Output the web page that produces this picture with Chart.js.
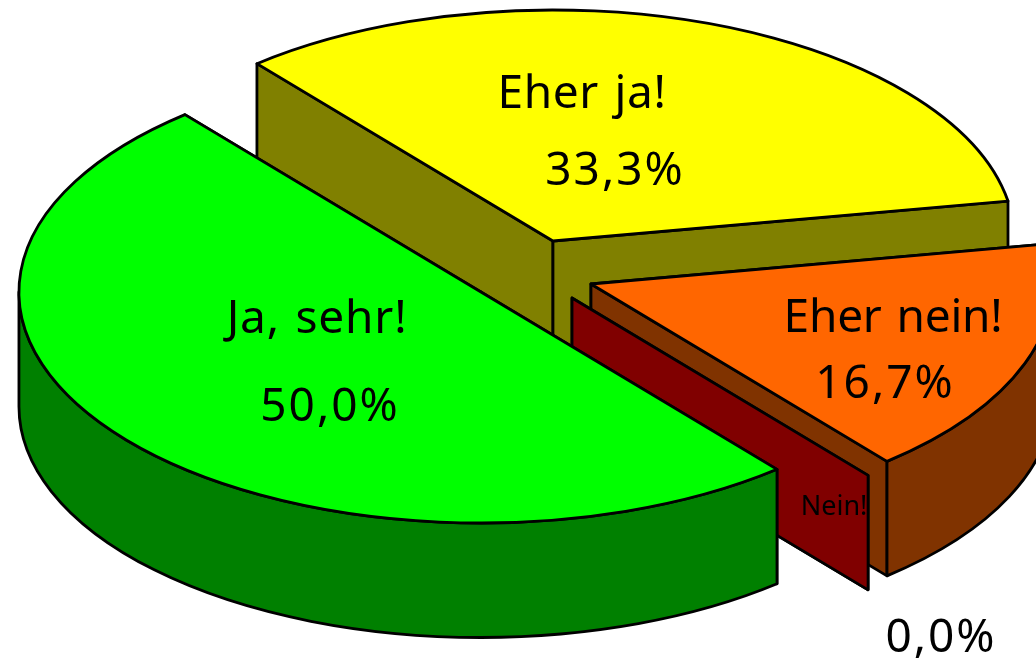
<!DOCTYPE html>
<html lang="de">
<head>
  <meta charset="UTF-8">
  <title>Ja, sehr!</title>
  <script src="https://cdn.jsdelivr.net/npm/chart.js"></script>
  <style>
    html, body { margin: 0; padding: 0; background: #fff; }
    #wrap { width: 1036px; height: 660px; overflow: hidden; }
  </style>
</head>
<body>
  <div id="wrap"><canvas id="pie" width="1036" height="660"></canvas></div>

  <script>
    // drawn back to front, so the order is not the reading order
    const categories = ["Eher ja!", "Eher nein!", "Nein!", "Ja, sehr!"];
    const values = [33.3, 16.7, 0, 50];
    const topColors = ["#ffff00", "#ff6600", "#ff0000", "#00ff00"];
    const wallColors = ["#808000", "#803300", "#800000", "#008000"];

    // how far each slice is pulled out, and in which direction (degrees)
    const explode = [63.7, 64.9, 67.5, 65.7];
    const explodeDir = [-70.3, 23.6, 53.1, 140.3];

    // look of the tilted pie
    const center = { x: 531.5, y: 271 };
    const radius = 462;
    const tilt = 0.5;     // y squash
    const depth = 114.5;
    const rotation = 320.15;

    // label anchors: name x,baseline then percent x,baseline
    const labelPos = [
      [582, 108, 615, 185],
      [893, 332, 885, 398],
      [834, 515, 941, 652],
      [317, 333, 330, 421]
    ];
    const labelSize = [46, 46, 27, 46];
    const nameSpacing = [0.6, -0.2, 0, 0.8];
    const labelFont = '"Noto Sans", sans-serif';

    const pie3d = {
      id: "pie3d",
      beforeDatasetDraw(chart, args) {
        const ctx = chart.ctx;
        args.meta.data.forEach((arc, i) => drawSlice(ctx, arc, i));
        drawLabels(ctx);
        return false; // slices are painted one by one above
      }
    };

    function drawSlice(ctx, arc, i) {
      const start = arc.startAngle, end = arc.endAngle;
      const dir = explodeDir[i] * Math.PI / 180;
      const ax = center.x + Math.cos(dir) * explode[i];
      const ay = center.y + Math.sin(dir) * explode[i] * tilt;
      const r = arc.outerRadius, ry = r * tilt;
      const px = a => ax + Math.cos(a) * r;
      const py = a => ay + Math.sin(a) * ry;

      ctx.save();
      ctx.lineWidth = 2.8;
      ctx.lineJoin = "round";
      ctx.strokeStyle = "#000";
      ctx.fillStyle = wallColors[i];

      // cut faces
      [start, end].forEach(a => {
        ctx.beginPath();
        ctx.moveTo(ax, ay);
        ctx.lineTo(px(a), py(a));
        ctx.lineTo(px(a), py(a) + depth);
        ctx.lineTo(ax, ay + depth);
        ctx.closePath();
        ctx.fill();
        ctx.stroke();
      });

      // rim, only the part turned to the viewer (sin > 0)
      for (let k = -1; k <= 2; k++) {
        const lo = Math.max(start, k * 2 * Math.PI);
        const hi = Math.min(end, k * 2 * Math.PI + Math.PI);
        if (hi > lo) {
          ctx.beginPath();
          ctx.ellipse(ax, ay, r, ry, 0, lo, hi);
          ctx.lineTo(px(hi), py(hi) + depth);
          ctx.ellipse(ax, ay + depth, r, ry, 0, hi, lo, true);
          ctx.closePath();
          ctx.fill();
          ctx.stroke();
        }
      }

      // top face goes through the library's arc element
      ctx.save();
      ctx.translate(ax, ay);
      ctx.scale(1, tilt);
      ctx.translate(-arc.x, -arc.y);
      arc.draw(ctx);
      ctx.restore();

      if (end > start) {
        ctx.beginPath();
        ctx.moveTo(ax, ay);
        ctx.ellipse(ax, ay, r, ry, 0, start, end);
        ctx.closePath();
        ctx.stroke();
      }
      ctx.restore();
    }

    function drawLabels(ctx) {
      ctx.save();
      ctx.fillStyle = "#000";
      ctx.textAlign = "center";
      ctx.textBaseline = "alphabetic";
      ctx.wordSpacing = "3px";
      categories.forEach((name, i) => {
        const p = labelPos[i];
        ctx.font = labelSize[i] + "px " + labelFont;
        ctx.letterSpacing = nameSpacing[i] + "px";
        ctx.fillText(name, p[0], p[1]);
        ctx.font = "46px " + labelFont;
        ctx.letterSpacing = "2px";
        ctx.fillText(values[i].toFixed(1).replace(".", ",") + "%", p[2], p[3]);
      });
      ctx.restore();
    }

    new Chart(document.getElementById("pie"), {
      type: "pie",
      data: {
        labels: categories,
        datasets: [{
          data: values,
          backgroundColor: topColors,
          borderWidth: 0
        }]
      },
      options: {
        responsive: false,
        animation: false,
        radius: radius,
        rotation: rotation,
        plugins: {
          legend: { display: false },
          tooltip: { enabled: false }
        }
      },
      plugins: [pie3d]
    });
  </script>
</body>
</html>
